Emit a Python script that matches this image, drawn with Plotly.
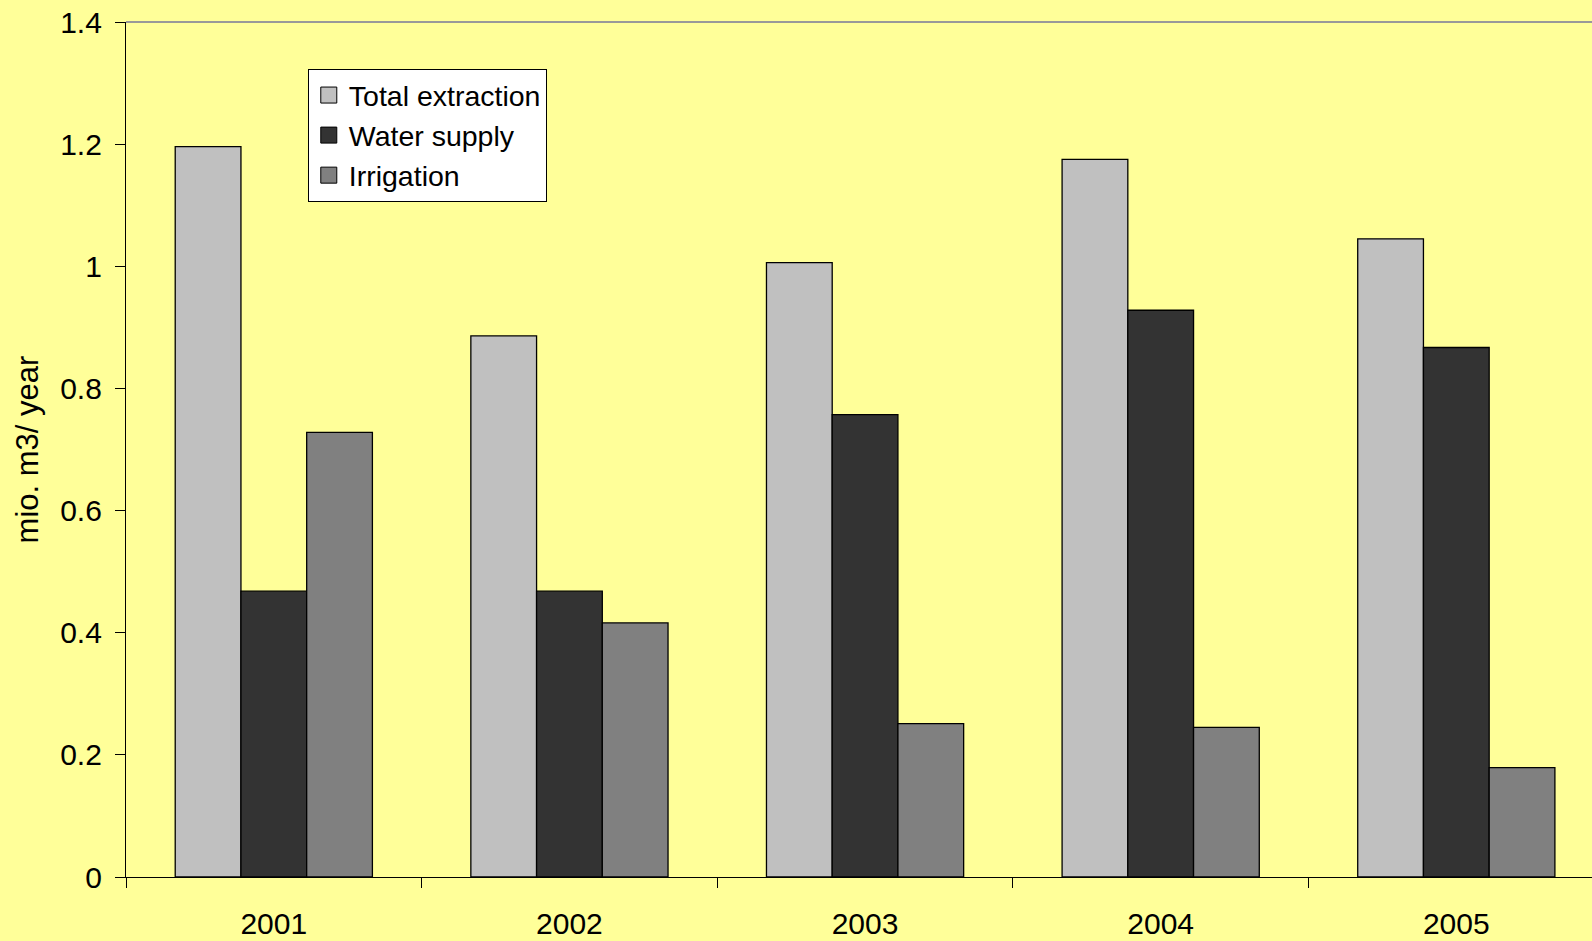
import plotly.graph_objects as go

# Annual groundwater extraction by use, mio. m3 per year
years = ["2001", "2002", "2003", "2004", "2005"]
total_extraction = [1.196, 0.886, 1.006, 1.175, 1.045]
water_supply = [0.468, 0.468, 0.757, 0.928, 0.867]
irrigation = [0.728, 0.416, 0.251, 0.245, 0.179]

series_names = ["Total extraction", "Water supply", "Irrigation"]
series_values = [total_extraction, water_supply, irrigation]
series_colors = ["#C0C0C0", "#333333", "#808080"]

FONT = "Liberation Sans, Arial, sans-serif"
BG = "#FFFF99"

fig = go.Figure()

for name, vals, col in zip(series_names, series_values, series_colors):
    fig.add_trace(go.Bar(
        x=years, y=vals, name=name,
        marker=dict(color=col, line=dict(color="#000000", width=1.3)),
        showlegend=False,
    ))

# Legend entries with larger square swatches
for i, (name, col) in enumerate(zip(series_names, series_colors)):
    fig.add_trace(go.Scatter(
        x=[None], y=[None], mode="markers", name=name,
        legendgroup=f"g{i}",
        marker=dict(symbol="square", size=18, color=col,
                    line=dict(color="#000000", width=1)),
    ))

fig.update_layout(
    width=1592, height=941,
    margin=dict(l=126, r=0, t=22, b=64),
    paper_bgcolor=BG, plot_bgcolor=BG,
    font=dict(family=FONT, size=30, color="#000000"),
    barmode="group", bargap=0.333, bargroupgap=0,
    showlegend=True,
    legend=dict(
        x=0.124, y=0.945, xanchor="left", yanchor="top",
        bgcolor="#FFFFFF", bordercolor="#000000", borderwidth=1,
        font=dict(family=FONT, size=28.5, color="#000000"),
        tracegroupgap=3, traceorder="normal",
    ),
    xaxis=dict(
        type="category", range=[-0.5, 4.459],
        showline=True, linecolor="#000000", linewidth=1.3,
        ticks="outside", tickson="boundaries", ticklen=10,
        tickcolor="#000000", tickwidth=1,
        showgrid=False, zeroline=False,
        ticklabelstandoff=20,
    ),
    yaxis=dict(
        range=[0, 1.4], dtick=0.2, tick0=0,
        showline=True, linecolor="#000000", linewidth=1.3,
        ticks="outside", ticklen=10, tickcolor="#000000", tickwidth=1,
        showgrid=False, zeroline=False,
        ticklabelstandoff=7,
        title=dict(text="mio. m3/ year", standoff=12,
                   font=dict(family=FONT, size=31)),
    ),
    shapes=[dict(
        type="line", xref="paper", yref="paper",
        x0=0, x1=1, y0=1, y1=1,
        line=dict(color="#999999", width=2),
    )],
)

fig.write_html("out.html")
